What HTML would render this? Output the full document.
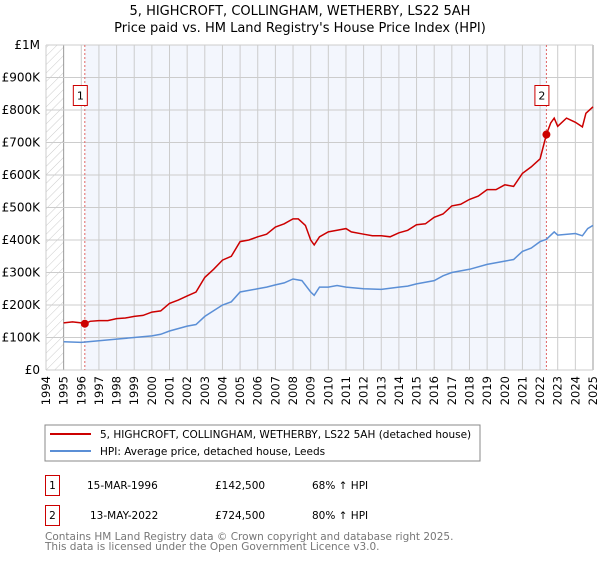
<!DOCTYPE html>
<html><head><meta charset="utf-8"><style>
body{margin:0;background:#fff;font-family:"DejaVu Sans","Liberation Sans",sans-serif;}
svg text{font-family:"DejaVu Sans","Liberation Sans",sans-serif;}
</style></head><body>
<svg id="c" width="600" height="560" xmlns="http://www.w3.org/2000/svg">
<defs><pattern id="hatch" width="6" height="6" patternUnits="userSpaceOnUse" patternTransform="rotate(45)"><line x1="0" y1="0" x2="0" y2="6" stroke="#ccc" stroke-width="1"/></pattern></defs>
<text x="300" y="15" text-anchor="middle" font-size="13" fill="#000">5, HIGHCROFT, COLLINGHAM, WETHERBY, LS22 5AH</text>
<text x="300" y="32" text-anchor="middle" font-size="13" fill="#000">Price paid vs. HM Land Registry's House Price Index (HPI)</text>
<g id="plot"></g>
<rect x="45" y="425" width="435" height="36" fill="#fff" stroke="#888"/>
<line x1="50" y1="434" x2="91" y2="434" stroke="#cc0000" stroke-width="2"/>
<text x="100" y="438" font-size="10.5">5, HIGHCROFT, COLLINGHAM, WETHERBY, LS22 5AH (detached house)</text>
<line x1="50" y1="451" x2="91" y2="451" stroke="#5b8fd6" stroke-width="2"/>
<text x="100" y="455" font-size="10.5">HPI: Average price, detached house, Leeds</text>
<rect x="45.5" y="475.5" width="14" height="20" fill="#fff" stroke="#cc0000"/>
<text x="52.5" y="489" font-size="10.5" text-anchor="middle">1</text>
<text x="87" y="489" font-size="10.5">15-MAR-1996</text>
<text x="215" y="489" font-size="10.5">£142,500</text>
<text x="312" y="489" font-size="10.5">68% ↑ HPI</text>
<rect x="45.5" y="505.5" width="14" height="20" fill="#fff" stroke="#cc0000"/>
<text x="52.5" y="519" font-size="10.5" text-anchor="middle">2</text>
<text x="90" y="519" font-size="10.5">13-MAY-2022</text>
<text x="215" y="519" font-size="10.5">£724,500</text>
<text x="312" y="519" font-size="10.5">80% ↑ HPI</text>
<text x="45" y="540" font-size="10.5" fill="#777">Contains HM Land Registry data © Crown copyright and database right 2025.</text>
<text x="45" y="550" font-size="10.5" fill="#777">This data is licensed under the Open Government Licence v3.0.</text>
</svg>
<script>
const years=[1994,1995,1996,1997,1998,1999,2000,2001,2002,2003,2004,2005,2006,2007,2008,2009,2010,2011,2012,2013,2014,2015,2016,2017,2018,2019,2020,2021,2022,2023,2024,2025];
const yTicks=[0,100,200,300,400,500,600,700,800,900,1000];
const yTickLabels=["£0","£100K","£200K","£300K","£400K","£500K","£600K","£700K","£800K","£900K","£1M"];
const redT=[1995,1995.5,1996,1996.2,1996.5,1997,1997.5,1998,1998.5,1999,1999.5,2000,2000.5,2001,2001.5,2002,2002.5,2003,2003.5,2004,2004.5,2005,2005.5,2006,2006.5,2007,2007.5,2008,2008.3,2008.7,2009,2009.2,2009.5,2010,2010.5,2011,2011.3,2012,2012.5,2013,2013.5,2014,2014.5,2015,2015.5,2016,2016.5,2017,2017.5,2018,2018.5,2019,2019.5,2020,2020.5,2021,2021.5,2022,2022.36,2022.6,2022.8,2023,2023.5,2024,2024.4,2024.6,2025];
const redV=[145,148,145,142.5,150,152,152,158,160,165,168,178,182,205,215,228,240,285,310,338,350,395,400,410,418,440,450,465,465,445,400,385,410,425,430,435,425,418,413,413,410,422,430,447,450,470,480,505,510,525,535,555,555,570,565,605,625,650,724.5,760,775,750,775,762,748,790,810];
const blueT=[1995,1996,1997,1998,1999,2000,2000.5,2001,2002,2002.5,2003,2004,2004.5,2005,2006,2006.5,2007,2007.5,2008,2008.5,2009,2009.2,2009.5,2010,2010.5,2011,2012,2013,2014,2014.5,2015,2016,2016.5,2017,2018,2019,2019.5,2020,2020.5,2021,2021.5,2022,2022.36,2022.8,2023,2024,2024.4,2024.7,2025];
const blueV=[87,85,90,95,100,105,110,120,135,140,165,200,210,240,250,255,262,268,280,275,240,230,255,255,260,255,250,248,255,258,265,275,290,300,310,325,330,335,340,365,375,395,402,425,415,420,413,435,445];
const saleT=[1996.2,2022.36];
const saleV=[142.5,724.5];
const X=t=>46+(t-1994)*(547/31);
const Y=v=>370-v*0.325;
const g=document.getElementById('plot');
const NS='http://www.w3.org/2000/svg';
function mk(tag,attrs,parent){const e=document.createElementNS(NS,tag);for(const k in attrs)e.setAttribute(k,attrs[k]);(parent||g).appendChild(e);return e;}
let r=mk('rect',{x:X(1994),y:Y(1000),width:X(1995)-X(1994),height:Y(0)-Y(1000),fill:'url(#hatch)'});


r=mk('rect',{x:X(saleT[0]),y:Y(1000),width:X(saleT[1])-X(saleT[0]),height:Y(0)-Y(1000),fill:'#f3f6fd'});


years.forEach((yr,i)=>{
 const l=mk('line',{x1:X(yr),x2:X(yr),y1:Y(1000),y2:Y(0),stroke:(yr==1995||yr==2025)?'#999':'#ccc','stroke-width':1});
 
 
 const t=mk('text',{x:0,y:0,'font-size':11.5,'text-anchor':'end',transform:`translate(${X(yr)+4},${Y(0)+6}) rotate(-90)`});
 t.textContent=yr;
 
 
});
yTicks.forEach((v,i)=>{
 const l=mk('line',{x1:X(1994),x2:X(2025),y1:Y(v),y2:Y(v),stroke:'#ccc','stroke-width':1});
 
 
 const t=mk('text',{x:40,y:Y(v)+4,'font-size':12,'text-anchor':'end'});
 t.textContent=yTickLabels[i];
 
 
});
saleT.forEach((t,i)=>{
 const l=mk('line',{x1:X(t),x2:X(t),y1:Y(1000),y2:Y(0),stroke:'#e06666','stroke-width':1,'stroke-dasharray':'2,2'});
 
 
});
const pts=(T,V)=>T.map((t,i)=>X(t).toFixed(1)+','+Y(V[i]).toFixed(1)).join(' ');
let p=mk('polyline',{points:pts(blueT,blueV),fill:'none',stroke:'#5b8fd6','stroke-width':1.5});


p=mk('polyline',{points:pts(redT,redV),fill:'none',stroke:'#cc0000','stroke-width':1.5});


saleT.forEach((t,i)=>{
 const c=mk('circle',{cx:X(t),cy:Y(saleV[i]),r:4,fill:'#cc0000'});
 
 
 const b=mk('rect',{x:X(t)-11.5,y:Y(900)+8,width:14,height:20,fill:'#fff',stroke:'#cc0000'});
 
 
 const tx=mk('text',{x:X(t)-4.5,y:Y(900)+22,'font-size':11,'text-anchor':'middle'});
 tx.textContent=String(i+1);
 
 
});
</script>
</body></html>
